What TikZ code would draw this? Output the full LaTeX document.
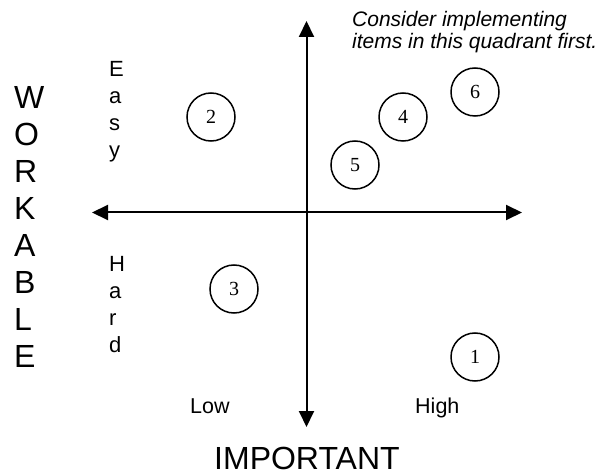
\documentclass[tikz,border=0pt]{standalone}
\usepackage{fontspec}
\setmainfont{Liberation Sans}
\newfontfamily\numfont{Liberation Serif}
\usetikzlibrary{arrows.meta}
\begin{document}
\begin{tikzpicture}[x=1pt,y=-1pt,
  axis/.style={line width=2pt,-{Triangle[length=16pt,width=15pt]}},
  item/.style={circle,draw,line width=1.5pt,minimum size=48pt,inner sep=0pt,font=\numfont\fontsize{20}{20}\selectfont},
  lbl/.style={inner sep=0pt,anchor=base west,align=left}
]
\useasboundingbox (0,0) rectangle (600,473);
\coordinate (c) at (306.5,212.5);
\coordinate (top) at (306.5,21);
\coordinate (bot) at (306.5,427);
\coordinate (lft) at (92,212.5);
\coordinate (rgt) at (522,212.5);
\draw[axis] (c) -- (top);
\draw[axis] (c) -- (bot);
\draw[axis] (c) -- (lft);
\draw[axis] (c) -- (rgt);

\node[item] (n2) at (211,117) {2};
\node[item] (n6) at (475,92) {6};
\node[item] (n4) at (403,117) {4};
\node[item] (n5) at (355,165) {5};
\node[item] (n3) at (234,289) {3};
\node[item] (n1) at (475,357) {1};

% base anchor of a multi-line node is the baseline of its last line
\node[lbl,font=\itshape\fontsize{21}{22}\selectfont] (note) at (352,49) {Consider implementing\\items in this quadrant first.};
\node[lbl,font=\fontsize{32}{37}\selectfont] (work) at (14,367) {W\\O\\R\\K\\A\\B\\L\\E};
\node[lbl,font=\fontsize{22}{27}\selectfont] (easy) at (109,158) {E\\a\\s\\y};
\node[lbl,font=\fontsize{22}{27}\selectfont] (hard) at (109,352) {H\\a\\r\\d};
\node[lbl,font=\fontsize{21.5}{22}\selectfont] (low) at (190,413) {Low};
\node[lbl,font=\fontsize{21.5}{22}\selectfont] (high) at (415,413) {High};
\node[lbl,font=\fontsize{32}{37}\selectfont] (imp) at (214,469) {IMPORTANT};
\end{tikzpicture}
\end{document}
